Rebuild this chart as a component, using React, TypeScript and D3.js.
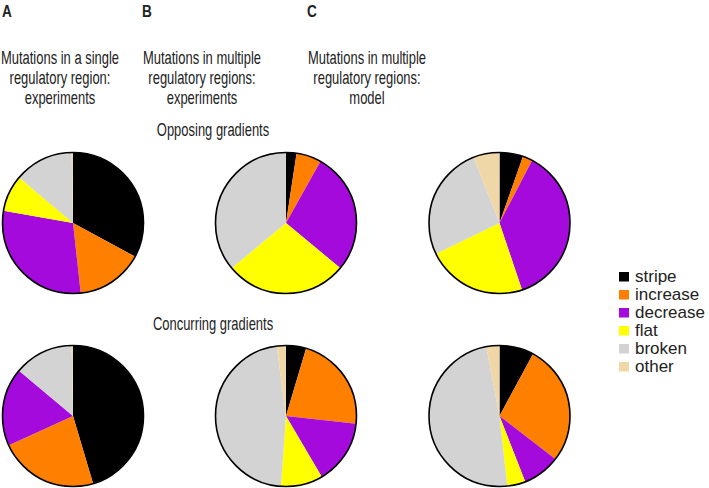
import React from "react";
import * as d3 from "d3";

const categories = ["stripe", "increase", "decrease", "flat", "broken", "other"];
const colors = ["#000000", "#ff8000", "#a30adb", "#ffff00", "#d3d3d3", "#efd7a8"];

// values in percent, order = categories, clockwise from 12 o'clock
const singleExpTop = [33, 15.4, 29.6, 8.4, 13.6, 0.3];
const singleExpBottom = [45.5, 22.8, 18, 0, 13.6, 0.3];
const multiExpOpposing = [2.4, 5.7, 27.9, 27.9, 36, 0];
const multiExpConcurring = [4.6, 22.1, 14.8, 9.6, 46.7, 2.1];
const modelOpposing = [5.4, 2.25, 37.2, 23, 26.2, 6];
const modelConcurring = [7.9, 27.6, 8.6, 4.2, 48.8, 3];

const panelLetters = ["A", "B", "C"];
const titleA = ["Mutations in a single", "regulatory region:", "experiments"];
const titleB = ["Mutations in multiple", "regulatory regions:", "experiments"];
const titleC = ["Mutations in multiple", "regulatory regions:", "model"];
const rowLabels = ["Opposing gradients", "Concurring gradients"];

const W = 709;
const H = 488;
const pieCX = [73, 286, 499.5];
const pieCY = [223, 416];
const R = 70.5;
const letterX = [2, 142, 307];
const titleCX = [60, 202, 367];
const titleBaselines = [64, 84, 104];
const font = "'Liberation Sans', Arial, Helvetica, sans-serif";

const pieGen = d3.pie<number>().sort(null).value((d) => d);
const arcGen = d3.arc<d3.PieArcDatum<number>>().innerRadius(0).outerRadius(R);

function Pie({ cx, cy, values }: { cx: number; cy: number; values: number[] }) {
  const arcs = pieGen(values);
  return (
    <g transform={`translate(${cx},${cy})`}>
      {arcs.map((a, i) =>
        a.value > 0 ? <path key={i} d={arcGen(a) || ""} fill={colors[i]} stroke="none" /> : null
      )}
      <circle r={R} fill="none" stroke="#000" strokeWidth={1.6} />
    </g>
  );
}

function CondText({ x, y, text, size = 18, bold = false, anchor = "middle", sx = 0.72 }: any) {
  return (
    <g transform={`translate(${x},${y}) scale(${sx},1)`}>
      <text
        x={0}
        y={0}
        textAnchor={anchor}
        fontFamily={font}
        fontSize={size}
        fontWeight={bold ? "bold" : "normal"}
        fill="#222"
      >
        {text}
      </text>
    </g>
  );
}

export default function App() {
  const titles = [titleA, titleB, titleC];
  const pies = [
    [singleExpTop, singleExpBottom],
    [multiExpOpposing, multiExpConcurring],
    [modelOpposing, modelConcurring],
  ];
  const legendY0 = 272;
  const legendStep = 18;
  return (
    <svg
      width={W}
      height={H}
      style={{ position: "absolute", left: 0, top: 0, background: "#fff" }}
    >
      <rect x={0} y={0} width={W} height={H} fill="#fff" />
      {panelLetters.map((l, i) => (
        <CondText key={l} x={letterX[i]} y={17} text={l} size={17} bold anchor="start" sx={0.8} />
      ))}
      {titles.map((lines, i) =>
        lines.map((t, j) => (
          <CondText key={`${i}-${j}`} x={titleCX[i]} y={titleBaselines[j]} text={t} />
        ))
      )}
      <CondText x={213} y={136} text={rowLabels[0]} />
      <CondText x={213} y={330} text={rowLabels[1]} />
      {pies.map((col, i) =>
        col.map((vals, j) => <Pie key={`${i}-${j}`} cx={pieCX[i]} cy={pieCY[j]} values={vals} />)
      )}
      {categories.map((c, i) => (
        <g key={c} transform={`translate(619,${legendY0 + i * legendStep})`}>
          <rect x={0} y={0} width={10} height={9.5} fill={colors[i]} />
          <text x={16} y={10} fontFamily={font} fontSize={17} fill="#222">
            {c}
          </text>
        </g>
      ))}
    </svg>
  );
}
